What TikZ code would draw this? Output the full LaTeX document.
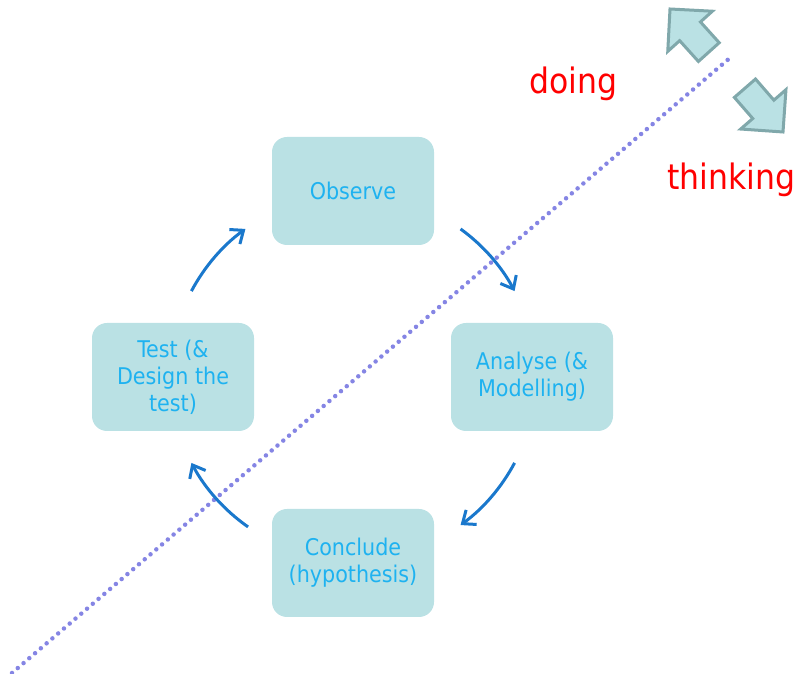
\documentclass[tikz,border=0pt]{standalone}
\usepackage{fontspec}
\setmainfont{DejaVu Sans Condensed}
\usetikzlibrary{arrows.meta,calc}
\definecolor{boxfill}{HTML}{BAE1E4}
\definecolor{boxtext}{HTML}{1EB2F0}
\definecolor{flowblue}{HTML}{1A78CC}
\definecolor{dotcol}{HTML}{8585E4}
\definecolor{barrowline}{HTML}{80A8AB}
\tikzset{
  stepbox/.style={fill=boxfill, rounded corners=15pt, minimum width=162pt, minimum height=108pt,
    align=center, text=boxtext, font=\fontsize{23}{27}\selectfont, inner sep=2pt},
  flow/.style={draw=flowblue, line width=3pt, -{Straight Barb[length=11pt,width=18pt,line width=3pt]}},
  redlabel/.style={text=red, font=\fontsize{35}{40}\selectfont, inner sep=0pt, anchor=base west},
  blockarrow/.style={fill=boxfill, draw=barrowline, line width=3pt, line join=miter},
  dotline/.style={draw=dotcol, line width=4.5pt, line cap=round, dash pattern=on 0pt off 7.6pt}
}
\begin{document}
\begin{tikzpicture}[x=1pt,y=1pt]
\useasboundingbox (0,0) rectangle (796,674);
% dotted divider
\coordinate (d1) at (12,1);
\coordinate (d2) at (731,617);
\draw[dotline] (d1) -- (d2);
% boxes
\node[stepbox] (obs) at (353,483) {Observe};
\node[stepbox] (ana) at (532,297) {Analyse (\&\\Modelling)};
\node[stepbox] (tst) at (173,297) {Test (\&\\Design the\\test)};
\node[stepbox] (con) at (353,111) {Conclude\\(hypothesis)};
\coordinate (C) at (353,297);
% cycle arrows
\draw[flow] ($(C)+(54:183pt)$) arc[start angle=54, end angle=28, radius=183pt];
\draw[flow] ($(C)+(-28:183pt)$) arc[start angle=-28, end angle=-54, radius=183pt];
\draw[flow] ($(C)+(-125:183pt)$) arc[start angle=-125, end angle=-152, radius=183pt];
\draw[flow] ($(C)+(152:183pt)$) arc[start angle=152, end angle=126, radius=183pt];
% labels
\node[redlabel] (doing) at (529,580) {doing};
\node[redlabel] (thinking) at (667,484) {thinking};
% block arrows
\begin{scope}[shift={(670,665)}, rotate=132]
\draw[blockarrow] (0,0) -- (-30,30) -- (-30,14) -- (-58,14) -- (-58,-14) -- (-30,-14) -- (-30,-30) -- cycle;
\end{scope}
\begin{scope}[shift={(783,542)}, rotate=-49]
\draw[blockarrow] (0,0) -- (-30,30) -- (-30,14) -- (-58,14) -- (-58,-14) -- (-30,-14) -- (-30,-30) -- cycle;
\end{scope}
\end{tikzpicture}
\end{document}
